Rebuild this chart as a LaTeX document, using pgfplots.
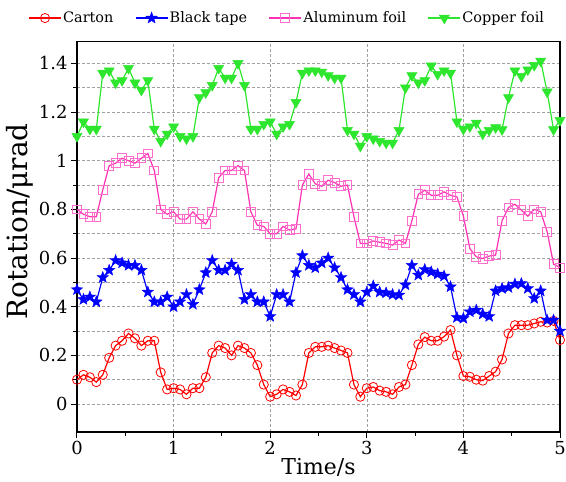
\documentclass[border=0pt]{standalone}
\usepackage{pgfplots}
\usepackage{pgfplotstable}
\usepackage{fontspec}
\setmainfont{DejaVu Serif}
\pgfplotsset{compat=1.18}

\definecolor{cred}{RGB}{255,0,0}
\definecolor{cblue}{RGB}{0,0,255}
\definecolor{cpink}{RGB}{255,50,180}
\definecolor{cpinkm}{RGB}{255,110,205}
\definecolor{cgreen}{RGB}{45,230,45}
\definecolor{gridgray}{RGB}{160,160,160}

% filled five-pointed star
\pgfdeclareplotmark{fstar}{%
  \pgfpathmoveto{\pgfpointpolar{90}{\pgfplotmarksize}}%
  \pgfpathlineto{\pgfpointpolar{126}{0.42\pgfplotmarksize}}%
  \pgfpathlineto{\pgfpointpolar{162}{\pgfplotmarksize}}%
  \pgfpathlineto{\pgfpointpolar{198}{0.42\pgfplotmarksize}}%
  \pgfpathlineto{\pgfpointpolar{234}{\pgfplotmarksize}}%
  \pgfpathlineto{\pgfpointpolar{270}{0.42\pgfplotmarksize}}%
  \pgfpathlineto{\pgfpointpolar{306}{\pgfplotmarksize}}%
  \pgfpathlineto{\pgfpointpolar{342}{0.42\pgfplotmarksize}}%
  \pgfpathlineto{\pgfpointpolar{18}{\pgfplotmarksize}}%
  \pgfpathlineto{\pgfpointpolar{54}{0.42\pgfplotmarksize}}%
  \pgfpathclose
  \pgfusepathqfillstroke}

% t in s; rotation in urad
\pgfplotstableread{
t      carton tape  al    cu
0.0000 0.100 0.470 0.800 1.100
0.0667 0.120 0.430 0.780 1.160
0.1333 0.110 0.440 0.770 1.130
0.2000 0.090 0.420 0.770 1.130
0.2667 0.120 0.520 0.880 1.360
0.3333 0.190 0.550 0.980 1.370
0.4000 0.240 0.590 0.990 1.320
0.4667 0.260 0.580 1.010 1.330
0.5333 0.290 0.570 1.000 1.380
0.6000 0.270 0.570 0.990 1.320
0.6667 0.240 0.550 1.010 1.290
0.7333 0.260 0.460 1.030 1.330
0.8000 0.260 0.420 0.960 1.130
0.8667 0.130 0.420 0.800 1.080
0.9333 0.060 0.440 0.780 1.110
1.0000 0.065 0.400 0.790 1.140
1.0667 0.060 0.420 0.760 1.100
1.1333 0.040 0.450 0.760 1.090
1.2000 0.065 0.410 0.790 1.100
1.2667 0.065 0.470 0.760 1.260
1.3333 0.110 0.540 0.740 1.280
1.4000 0.210 0.590 0.790 1.310
1.4667 0.240 0.550 0.930 1.380
1.5333 0.230 0.550 0.960 1.340
1.6000 0.200 0.575 0.960 1.340
1.6667 0.240 0.550 0.980 1.400
1.7333 0.230 0.430 0.960 1.310
1.8000 0.210 0.450 0.790 1.130
1.8667 0.160 0.420 0.735 1.130
1.9333 0.080 0.420 0.730 1.150
2.0000 0.030 0.360 0.700 1.160
2.0667 0.040 0.450 0.700 1.110
2.1333 0.060 0.450 0.730 1.140
2.2000 0.050 0.420 0.715 1.150
2.2667 0.035 0.540 0.720 1.240
2.3333 0.080 0.610 0.900 1.360
2.4000 0.210 0.570 0.945 1.370
2.4667 0.235 0.560 0.905 1.370
2.5333 0.235 0.580 0.895 1.365
2.6000 0.240 0.600 0.920 1.350
2.6667 0.230 0.560 0.910 1.340
2.7333 0.220 0.520 0.895 1.340
2.8000 0.210 0.470 0.900 1.125
2.8667 0.080 0.450 0.770 1.110
2.9333 0.030 0.420 0.660 1.060
3.0000 0.065 0.460 0.660 1.100
3.0667 0.070 0.485 0.670 1.090
3.1333 0.055 0.460 0.665 1.080
3.2000 0.050 0.457 0.660 1.073
3.2667 0.040 0.450 0.653 1.073
3.3333 0.070 0.448 0.674 1.125
3.4000 0.080 0.490 0.660 1.300
3.4667 0.160 0.570 0.753 1.350
3.5333 0.245 0.530 0.862 1.320
3.6000 0.275 0.553 0.879 1.330
3.6667 0.260 0.543 0.858 1.390
3.7333 0.260 0.534 0.858 1.355
3.8000 0.277 0.526 0.872 1.370
3.8667 0.304 0.482 0.858 1.360
3.9333 0.200 0.356 0.851 1.160
4.0000 0.115 0.352 0.772 1.130
4.0667 0.112 0.379 0.639 1.140
4.1333 0.100 0.386 0.605 1.155
4.2000 0.096 0.370 0.598 1.110
4.2667 0.115 0.360 0.608 1.125
4.3333 0.133 0.465 0.612 1.136
4.4000 0.183 0.475 0.753 1.128
4.4667 0.290 0.479 0.808 1.260
4.5333 0.324 0.493 0.821 1.370
4.6000 0.324 0.495 0.797 1.347
4.6667 0.324 0.475 0.772 1.374
4.7333 0.331 0.434 0.800 1.392
4.8000 0.338 0.465 0.790 1.410
4.8667 0.335 0.345 0.708 1.283
4.9333 0.342 0.345 0.575 1.128
5.0000 0.263 0.300 0.561 1.166
}\rotdata

\begin{document}
\begin{tikzpicture}
\path[use as bounding box] (-77bp,-50bp) rectangle (489bp,432bp);
\begin{axis}[
  at={(0,0)}, anchor=south west,
  scale only axis, width=483bp, height=390.5bp,
  xmin=0, xmax=5, ymin=-0.115, ymax=1.49,
  clip=false,
  xtick={0,1,2,3,4,5},
  ytick={0,0.2,0.4,0.6,0.8,1,1.2,1.4},
  minor xtick={0.5,1.5,2.5,3.5,4.5},
  minor ytick={0.1,0.3,0.5,0.7,0.9,1.1,1.3},
  xmajorgrids, ymajorgrids, yminorgrids,
  major grid style={gridgray, line width=0.6bp, dash pattern=on 3bp off 2bp},
  minor grid style={gridgray, line width=0.6bp, dash pattern=on 3bp off 2bp},
  tick align=outside, xtick pos=bottom, ytick pos=left,
  major tick length=6bp, minor tick length=3.5bp,
  every tick/.style={black, line width=1bp},
  axis line style={line width=1.2bp},
  /pgf/number format/assume math mode=true,
  tick label style={font=\fontsize{18}{20}\selectfont},
  xlabel={Time/s},
  ylabel={Rotation/μrad},
  xlabel style={font=\fontsize{22}{24}\selectfont, at={(axis description cs:0.5,-0.09)}, anchor=center},
  ylabel style={font=\fontsize{28}{30}\selectfont, at={(axis description cs:-0.118,0.54)}, anchor=center},
  legend columns=4,
  legend style={at={(axis description cs:-0.101,1.06)}, anchor=west,
    draw=none, fill=none, font=\fontsize{14.5}{16}\selectfont,
    inner xsep=0bp, inner ysep=0bp,
    nodes={inner xsep=1.5bp},
    /tikz/every even column/.append style={column sep=20bp}},
  legend image code/.code={%
    \draw[mark repeat=2, mark phase=2] plot coordinates {(0bp,0bp) (16bp,0bp) (32bp,0bp)};},
]
\addplot[cred, line width=1.2bp, mark=o, mark size=4.6bp,
  mark options={line width=0.8bp, fill=none}] table[x=t, y=carton] {\rotdata};
\addlegendentry{Carton}
\addplot[cblue, line width=1.2bp, mark=fstar, mark size=6bp,
  mark options={line width=0.4bp, fill=cblue}] table[x=t, y=tape] {\rotdata};
\addlegendentry{Black tape}
\addplot[cpink, line width=1.2bp, mark=square, mark size=4.4bp,
  mark options={draw=cpinkm, line width=0.8bp, fill=none}] table[x=t, y=al] {\rotdata};
\addlegendentry{Aluminum foil}
\addplot[cgreen, line width=1.2bp, mark=triangle*, mark size=5.8bp,
  mark options={rotate=180, line width=0.5bp, fill=cgreen}] table[x=t, y=cu] {\rotdata};
\addlegendentry{Copper foil}
\end{axis}
\end{tikzpicture}
\end{document}
